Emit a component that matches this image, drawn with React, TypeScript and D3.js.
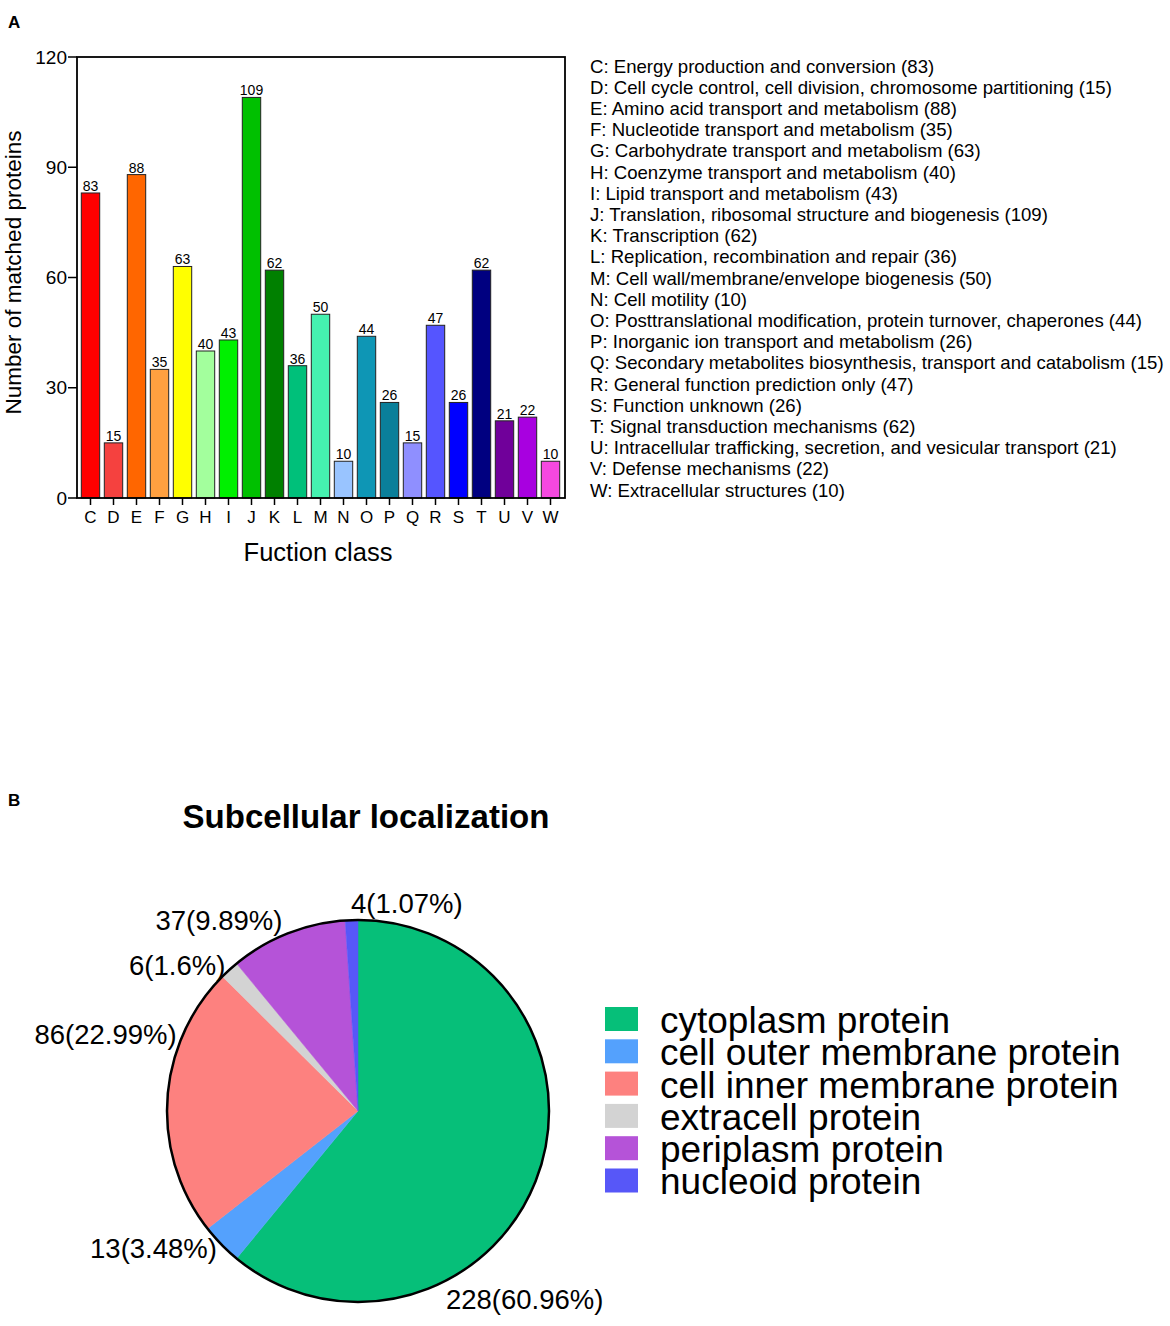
import React from 'react';
import * as d3 from 'd3';

// ---- panel A data ----
const classes = ['C', 'D', 'E', 'F', 'G', 'H', 'I', 'J', 'K', 'L', 'M', 'N', 'O', 'P', 'Q', 'R', 'S', 'T', 'U', 'V', 'W'];
const counts = [83, 15, 88, 35, 63, 40, 43, 109, 62, 36, 50, 10, 44, 26, 15, 47, 26, 62, 21, 22, 10];
const barColors = [
  '#ff0000', '#f5413f', '#ff6600', '#ffa040', '#ffff00', '#a3ff9d', '#00f000', '#00c000',
  '#008000', '#00c07a', '#45f2b0', '#99c4ff', '#0e96b5', '#0a7f9a', '#8f8fff', '#5555ff',
  '#0000ff', '#000080', '#70009a', '#a800e0', '#f548e0',
];
const classNames = [
  'Energy production and conversion',
  'Cell cycle control, cell division, chromosome partitioning',
  'Amino acid transport and metabolism',
  'Nucleotide transport and metabolism',
  'Carbohydrate transport and metabolism',
  'Coenzyme transport and metabolism',
  'Lipid transport and metabolism',
  'Translation, ribosomal structure and biogenesis',
  'Transcription',
  'Replication, recombination and repair',
  'Cell wall/membrane/envelope biogenesis',
  'Cell motility',
  'Posttranslational modification, protein turnover, chaperones',
  'Inorganic ion transport and metabolism',
  'Secondary metabolites biosynthesis, transport and catabolism',
  'General function prediction only',
  'Function unknown',
  'Signal transduction mechanisms',
  'Intracellular trafficking, secretion, and vesicular transport',
  'Defense mechanisms',
  'Extracellular structures',
];
const yTicks = [0, 30, 60, 90, 120];

// ---- panel B data ----
const locations = [
  'cytoplasm protein',
  'cell outer membrane protein',
  'cell inner membrane protein',
  'extracell protein',
  'periplasm protein',
  'nucleoid protein',
];
const locCounts = [228, 13, 86, 6, 37, 4];
const locPercents = ['60.96%', '3.48%', '22.99%', '1.6%', '9.89%', '1.07%'];
const locColors = ['#06bf79', '#54a1fd', '#fd817f', '#d3d3d3', '#b553d8', '#5757f8'];

const FONT = 'Liberation Sans, Arial, Helvetica, sans-serif';

const BarPanel: React.FC = () => {
  const left = 77, right = 565, top = 57, bottom = 498;
  const x = d3.scaleBand<string>().domain(classes).range([79, 562]).paddingInner(0.2).paddingOuter(0.1);
  const y = d3.scaleLinear().domain([0, 120]).range([bottom, top]);
  const cxOf = (c: string) => (x(c) ?? 0) + x.bandwidth() / 2;

  return (
    <g fontFamily={FONT}>
      <text x={8} y={28} fontSize={17} fontWeight="bold">A</text>

      {classes.map((c, i) => (
        <g key={c}>
          <rect
            x={x(c)}
            y={y(counts[i])}
            width={x.bandwidth()}
            height={y(0) - y(counts[i])}
            fill={barColors[i]}
            stroke="#222"
            strokeWidth={1}
          />
          <text x={cxOf(c)} y={y(counts[i]) - 2} fontSize={14} textAnchor="middle">
            {counts[i]}
          </text>
          <line x1={cxOf(c)} x2={cxOf(c)} y1={bottom} y2={bottom + 7} stroke="#000" strokeWidth={1.5} />
          <text x={cxOf(c)} y={bottom + 25} fontSize={17} textAnchor="middle">
            {c}
          </text>
        </g>
      ))}

      {/* frame */}
      <rect x={left} y={top} width={right - left} height={bottom - top} fill="none" stroke="#000" strokeWidth={1.8} />

      {yTicks.map(t => (
        <g key={t}>
          <line x1={left - 9} x2={left} y1={y(t)} y2={y(t)} stroke="#000" strokeWidth={1.5} />
          <text x={left - 10} y={y(t)} dy="0.35em" fontSize={19} textAnchor="end">{t}</text>
        </g>
      ))}

      <text
        transform={`translate(21, ${(top + bottom) / 2 - 5}) rotate(-90)`}
        fontSize={22.5}
        textAnchor="middle"
      >
        Number of matched proteins
      </text>
      <text x={318} y={561} fontSize={25.5} textAnchor="middle">Fuction class</text>

      {classes.map((c, i) => (
        <text key={c} x={590} y={66 + i * 21.2} dy="0.35em" fontSize={18.6}>
          {`${c}: ${classNames[i]} (${counts[i]})`}
        </text>
      ))}
    </g>
  );
};

const PiePanel: React.FC = () => {
  const cx = 358, cy = 1111, r = 191;
  const pie = d3.pie<number>().sort(null).value(d => d);
  const arcs = pie(locCounts);
  const arc = d3.arc<d3.PieArcDatum<number>>().innerRadius(0).outerRadius(r);

  // label nudges where the original moved labels off the slice mid-angle
  const labelAngle: Record<number, number> = { 0: 155, 2: 293 };
  const labelGap: Record<number, number> = { 0: 17, 4: 14, 5: 17 };

  return (
    <g fontFamily={FONT}>
      <text x={8} y={806} fontSize={17} fontWeight="bold">B</text>
      <text x={366} y={828} fontSize={33} fontWeight="bold" textAnchor="middle">Subcellular localization</text>

      <g transform={`translate(${cx}, ${cy})`}>
        {arcs.map((a, i) => (
          <path key={i} d={arc(a) ?? ''} fill={locColors[i]} stroke={locColors[i]} strokeWidth={0.5} />
        ))}
        <circle r={r} fill="none" stroke="#000" strokeWidth={2.5} />
        {arcs.map((a, i) => {
          const mid = (a.startAngle + a.endAngle) / 2;
          const ang = labelAngle[i] !== undefined ? (labelAngle[i] * Math.PI) / 180 : mid;
          const lr = r + (labelGap[i] ?? 6);
          const lx = lr * Math.sin(ang);
          const ly = -lr * Math.cos(ang);
          const rightSide = Math.sin(ang) > 0 || i === arcs.length - 1;
          return (
            <text
              key={i}
              x={lx}
              y={ly}
              dy="0.35em"
              fontSize={27.5}
              textAnchor={rightSide ? 'start' : 'end'}
            >
              {`${locCounts[i]}(${locPercents[i]})`}
            </text>
          );
        })}
      </g>

      {locations.map((name, i) => (
        <g key={name}>
          <rect x={605} y={1007 + i * 32.3} width={33} height={24} fill={locColors[i]} />
          <text x={660} y={1020 + i * 32.3} dy="0.35em" fontSize={37}>{name}</text>
        </g>
      ))}
    </g>
  );
};

const App: React.FC = () => (
  <svg
    width={1170}
    height={1326}
    style={{ position: 'absolute', left: 0, top: 0, background: '#fff' }}
  >
    <rect width={1170} height={1326} fill="#fff" />
    <BarPanel />
    <PiePanel />
  </svg>
);

export default App;
